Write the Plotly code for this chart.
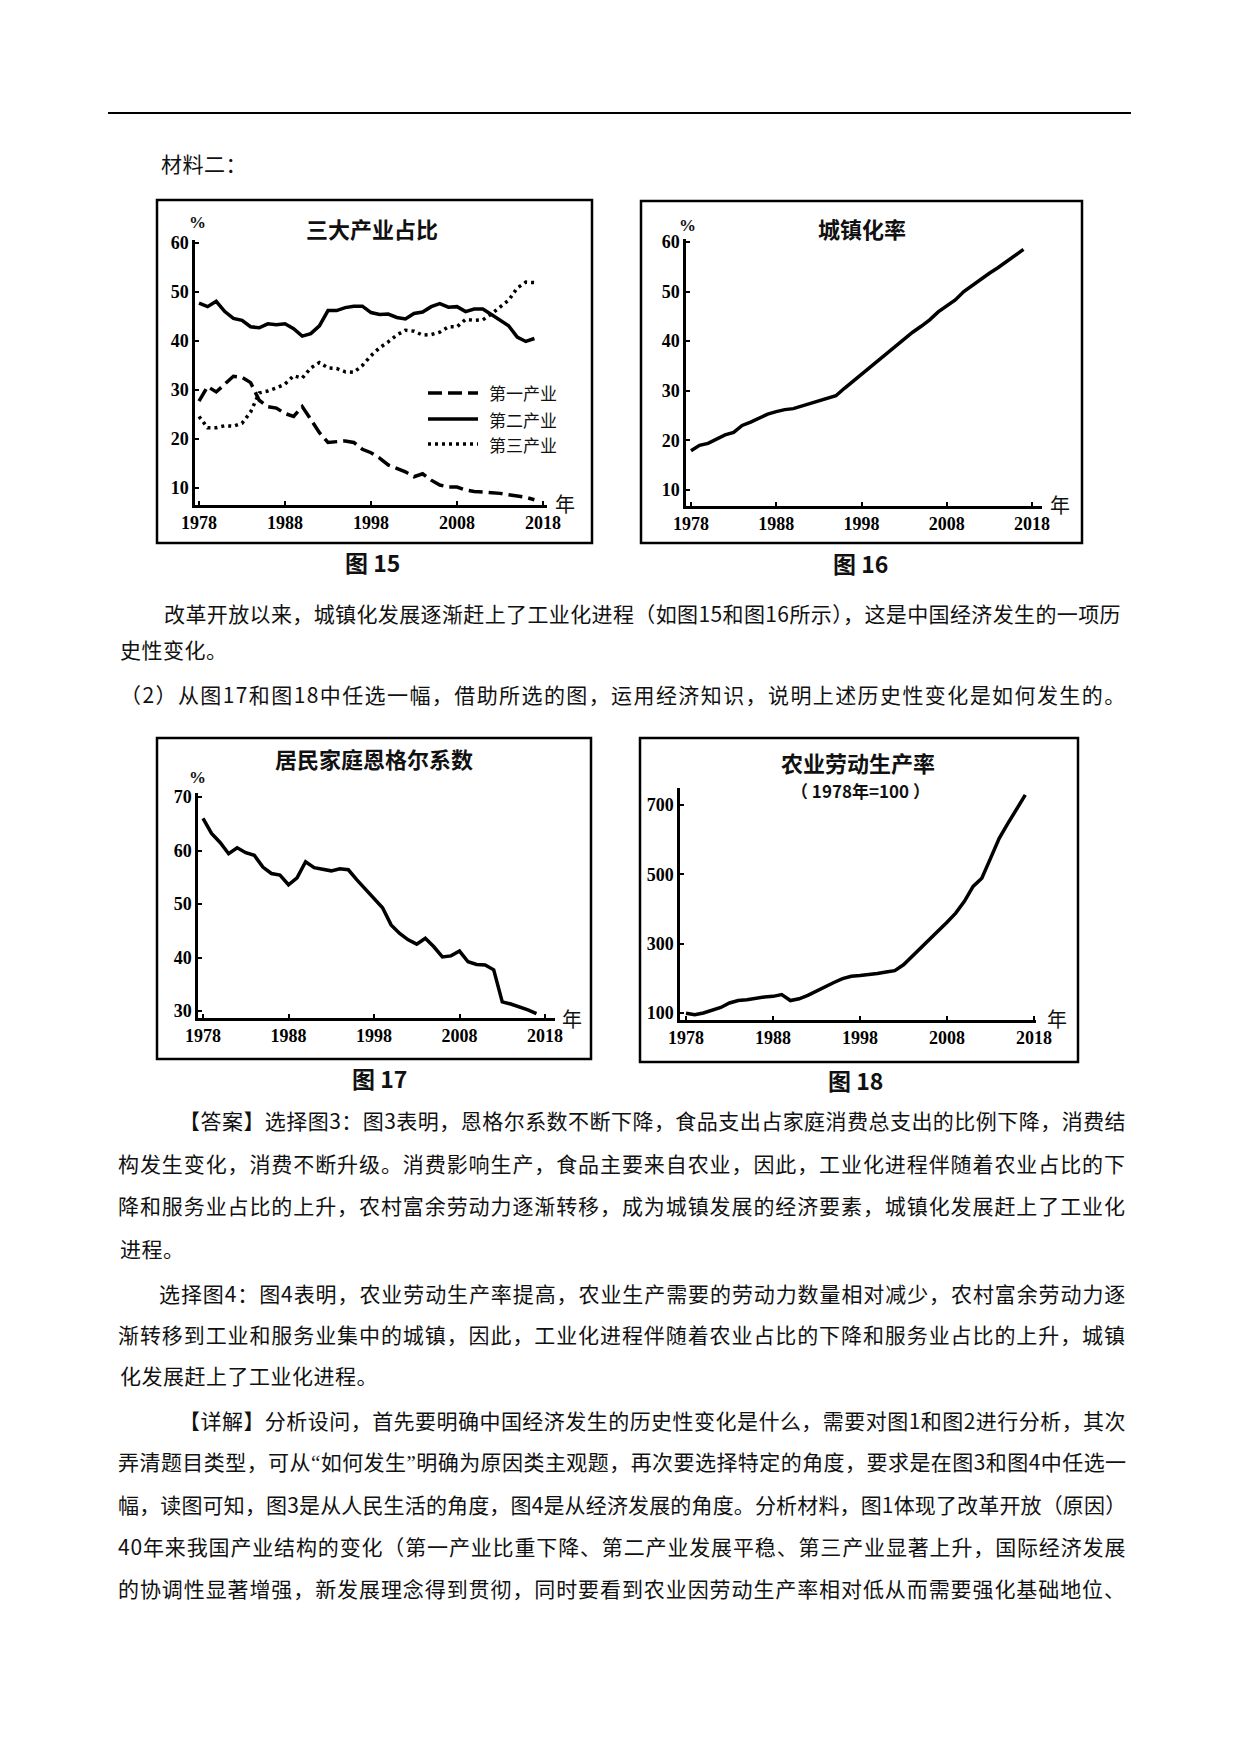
import plotly.graph_objects as go

# page is 1240x1753; the html body keeps an 8px margin, so the figure is
# made 16px smaller.  All positions below are page pixels of the reference.
PAGE_W, PAGE_H = 1240, 1753
M = 8
W, H = PAGE_W - 2 * M, PAGE_H - 2 * M


def px(x):
    return (x - M) / W


def py(y):
    return 1 - (y - M) / H


# ---- data ----
years = list(range(1978, 2018))

# 图15 三大产业占比 (%)
primary = [27.7, 30.7, 29.6, 31.3, 32.8, 32.6, 31.5, 27.9, 26.6, 26.3,
           25.2, 24.6, 26.6, 24.0, 21.3, 19.3, 19.5, 19.6, 19.3, 17.9,
           17.2, 16.1, 14.7, 14.0, 13.3, 12.3, 12.9, 11.6, 10.6, 10.2,
           10.2, 9.6, 9.3, 9.2, 9.1, 8.9, 8.6, 8.4, 8.1, 7.6]
secondary = [47.7, 47.0, 48.1, 46.0, 44.6, 44.2, 42.9, 42.7, 43.5, 43.3,
             43.5, 42.5, 41.0, 41.5, 43.1, 46.2, 46.2, 46.8, 47.1, 47.1,
             45.8, 45.4, 45.5, 44.8, 44.5, 45.6, 45.9, 47.0, 47.6, 46.9,
             47.0, 46.0, 46.5, 46.5, 45.4, 44.2, 43.1, 40.8, 39.9, 40.5]
tertiary = [24.6, 22.3, 22.3, 22.7, 22.6, 23.2, 25.5, 29.4, 29.8, 30.4,
            31.2, 32.9, 32.4, 34.5, 35.6, 34.5, 34.4, 33.7, 33.6, 35.0,
            37.0, 38.6, 39.8, 41.2, 42.2, 42.0, 41.2, 41.3, 41.8, 42.9,
            42.9, 44.4, 44.2, 44.3, 45.5, 46.9, 48.3, 50.8, 52.0, 51.9]

# 图16 城镇化率 (%)
urban = [17.9, 19.0, 19.4, 20.2, 21.1, 21.6, 23.0, 23.7, 24.5, 25.3,
         25.8, 26.2, 26.4, 26.9, 27.5, 28.0, 28.5, 29.0, 30.5, 31.9,
         33.4, 34.8, 36.2, 37.7, 39.1, 40.5, 41.8, 43.0, 44.3, 45.9,
         47.0, 48.3, 50.0, 51.3, 52.6, 53.7, 54.8, 56.1, 57.4, 58.5]

# 图17 居民家庭恩格尔系数 (%)
engel = [66.0, 63.2, 61.5, 59.4, 60.5, 59.6, 59.1, 56.9, 55.7, 55.4,
         53.6, 54.9, 57.9, 56.8, 56.5, 56.2, 56.6, 56.4, 54.5, 52.8,
         50.9, 49.3, 46.1, 44.5, 43.3, 42.5, 43.6, 42.0, 40.1, 40.3,
         41.2, 39.2, 38.7, 38.6, 37.7, 31.7, 31.3, 30.8, 30.2, 29.5]

# 图18 农业劳动生产率 (1978年=100)
agri = [99, 95, 100, 108, 116, 129, 136, 138, 143, 146,
        148, 153, 136, 141, 151, 164, 177, 188, 199, 206,
        208, 210, 214, 218, 222, 239, 263, 287, 311, 337,
        362, 388, 422, 465, 489, 546, 604, 647, 686, 729]

year_ticks = [1978, 1988, 1998, 2008, 2018]
pct_ticks = [10, 20, 30, 40, 50, 60]
engel_ticks = [30, 40, 50, 60, 70]
agri_ticks = [100, 300, 500, 700]

legend_names = ["第一产业", "第二产业", "第三产业"]

CJK = "Noto Sans CJK SC"
SERIF = "Liberation Serif"

fig = go.Figure()

line_w = 3.5
fig.add_trace(go.Scatter(x=years, y=primary, mode="lines", name=legend_names[0],
                         line=dict(color="black", width=line_w, dash="14px,6px"),
                         xaxis="x", yaxis="y"))
fig.add_trace(go.Scatter(x=years, y=secondary, mode="lines", name=legend_names[1],
                         line=dict(color="black", width=line_w),
                         xaxis="x", yaxis="y"))
fig.add_trace(go.Scatter(x=years, y=tertiary, mode="lines", name=legend_names[2],
                         line=dict(color="black", width=line_w, dash="3px,4px"),
                         xaxis="x", yaxis="y"))
fig.add_trace(go.Scatter(x=years, y=urban, mode="lines",
                         line=dict(color="black", width=line_w),
                         xaxis="x2", yaxis="y2"))
fig.add_trace(go.Scatter(x=years, y=engel, mode="lines",
                         line=dict(color="black", width=line_w),
                         xaxis="x3", yaxis="y3"))
fig.add_trace(go.Scatter(x=years, y=agri, mode="lines",
                         line=dict(color="black", width=line_w),
                         xaxis="x4", yaxis="y4"))

axis_common = dict(showline=True, linecolor="black", linewidth=2.5,
                   ticks="inside", ticklen=4, tickwidth=2, tickcolor="black",
                   showgrid=False, zeroline=False, fixedrange=True, automargin=False,
                   tickfont=dict(family=SERIF, size=18, color="black", weight="bold"))


def x_range(p0, p1, t0, t1, v0=1978, v1=2018):
    # axis drawn from page x p0 to p1, with value v0 at t0 and v1 at t1
    k = (v1 - v0) / (t1 - t0)
    return [v0 - (t0 - p0) * k, v1 + (p1 - t1) * k]


fig.update_layout(
    width=W, height=H,
    margin=dict(l=0, r=0, t=0, b=0, pad=0, autoexpand=False),
    paper_bgcolor="white", plot_bgcolor="rgba(0,0,0,0)",
    showlegend=False,
    xaxis=dict(domain=[px(195), px(547)], range=x_range(195, 547, 199, 543), tickvals=year_ticks,
               anchor="y", ticklabelstandoff=0, **axis_common),
    yaxis=dict(domain=[py(505), py(240)], range=[6.53, 60.6], tickvals=pct_ticks,
               anchor="x", **axis_common),
    xaxis2=dict(domain=[px(686), px(1042)], range=x_range(686, 1042, 691, 1032), tickvals=year_ticks,
                anchor="y2", ticklabelstandoff=0, **axis_common),
    yaxis2=dict(domain=[py(506), py(239)], range=[6.77, 60.6], tickvals=pct_ticks,
                anchor="x2", **axis_common),
    xaxis3=dict(domain=[px(198), px(555)], range=x_range(198, 555, 203, 545), tickvals=year_ticks,
                anchor="y3", ticklabelstandoff=0, **axis_common),
    yaxis3=dict(domain=[py(1018), py(793)], range=[28.69, 70.75], tickvals=engel_ticks,
                anchor="x3", **axis_common),
    xaxis4=dict(domain=[px(680), px(1036)], range=x_range(680, 1036, 686, 1034), tickvals=year_ticks,
                anchor="y4", ticklabelstandoff=0, **axis_common),
    yaxis4=dict(domain=[py(1020), py(788)], range=[79.8, 749], tickvals=agri_ticks,
                anchor="x4", **axis_common),
)

shapes = []
# top rule
shapes.append(dict(type="line", xref="paper", yref="paper", x0=px(108), x1=px(1131),
                   y0=py(113), y1=py(113), line=dict(color="black", width=2)))
# chart frames
for x0, y0, x1, y1 in [(157, 200, 592, 543), (641, 201, 1082, 543),
                       (157, 738, 591, 1059), (640, 738, 1078, 1062)]:
    shapes.append(dict(type="rect", xref="paper", yref="paper",
                       x0=px(x0), x1=px(x1), y0=py(y1), y1=py(y0),
                       line=dict(color="black", width=2.5)))
# hand-made legend for 图15
for (yy, dash) in [(393, "14px,6px"), (419, "solid"), (444, "3px,4px")]:
    shapes.append(dict(type="line", xref="paper", yref="paper", x0=px(428), x1=px(478),
                       y0=py(yy), y1=py(yy), line=dict(color="black", width=line_w, dash=dash)))
fig.update_layout(shapes=shapes)

ann = []


def text(x, y, s, size=21, family=CJK, anchor="left", weight="normal", color="#111"):
    ann.append(dict(x=px(x), y=py(y), xref="paper", yref="paper", text=s, showarrow=False,
                    xanchor=anchor, yanchor="middle",
                    font=dict(family=family, size=size, color=color, weight=weight)))


# legend labels
for yy, name in zip([393, 419, 444], legend_names):
    text(487, yy, name, size=17)

# chart titles, units, captions
text(372, 228, "三大产业占比", size=22, anchor="center", weight="bold")
text(862, 228, "城镇化率", size=22, anchor="center", weight="bold")
text(374, 758, "居民家庭恩格尔系数", size=22, anchor="center", weight="bold")
text(858, 762, "农业劳动生产率", size=22, anchor="center", weight="bold")
text(860, 790, "（ 1978年=100 ）", size=17, anchor="center", weight="bold")
for x, y in [(197, 223), (687, 225), (197, 777)]:
    text(x, y, "%", size=17, family=SERIF, anchor="center", weight="bold")
for x, y in [(565, 503), (1060, 505), (572, 1018), (1057, 1018)]:
    text(x, y, "年", size=20, anchor="center")
text(372, 562, "图 15", size=23, anchor="center", weight="bold")
text(860, 563, "图 16", size=23, anchor="center", weight="bold")
text(380, 1078, "图 17", size=23, anchor="center", weight="bold")
text(855, 1080, "图 18", size=23, anchor="center", weight="bold")

# body text: (left x, y, text, justified)
BODY = 21
L0, L1, RIGHT = 118, 159, 1126
LB = 179   # lines opening with 【
body = [
    (L1, 163, "材料二：", False),
    (L1, 613, "改革开放以来，城镇化发展逐渐赶上了工业化进程（如图15和图16所示），这是中国经济发生的一项历", True),
    (L0, 649, "史性变化。", False),
    (120, 694, "（2）从图17和图18中任选一幅，借助所选的图，运用经济知识，说明上述历史性变化是如何发生的。", True),
    (LB, 1120, "【答案】选择图3：图3表明，恩格尔系数不断下降，食品支出占家庭消费总支出的比例下降，消费结", True),
    (L0, 1163, "构发生变化，消费不断升级。消费影响生产，食品主要来自农业，因此，工业化进程伴随着农业占比的下", True),
    (L0, 1205, "降和服务业占比的上升，农村富余劳动力逐渐转移，成为城镇发展的经济要素，城镇化发展赶上了工业化", True),
    (L0, 1248, "进程。", False),
    (L1, 1293, "选择图4：图4表明，农业劳动生产率提高，农业生产需要的劳动力数量相对减少，农村富余劳动力逐", True),
    (L0, 1334, "渐转移到工业和服务业集中的城镇，因此，工业化进程伴随着农业占比的下降和服务业占比的上升，城镇", True),
    (L0, 1375, "化发展赶上了工业化进程。", False),
    (LB, 1420, "【详解】分析设问，首先要明确中国经济发生的历史性变化是什么，需要对图1和图2进行分析，其次", True),
    (L0, 1461, "弄清题目类型，可从“如何发生”明确为原因类主观题，再次要选择特定的角度，要求是在图3和图4中任选一", True),
    (L0, 1504, "幅，读图可知，图3是从人民生活的角度，图4是从经济发展的角度。分析材料，图1体现了改革开放（原因）", True),
    (L0, 1546, "40年来我国产业结构的变化（第一产业比重下降、第二产业发展平稳、第三产业显著上升，国际经济发展", True),
    (L0, 1588, "的协调性显著增强，新发展理念得到贯彻，同时要看到农业因劳动生产率相对低从而需要强化基础地位、", True),
]


def natural_width(s, size):
    w = 0.0
    for ch in s:
        if ch in "“”":
            w += 0.44 * size
        elif ord(ch) < 128:
            w += 0.55 * size
        else:
            w += size
    return w


def markup(s):
    s = s.replace("“", '<span style="font-family:Liberation Serif">“</span>')
    return s.replace("”", '<span style="font-family:Liberation Serif">”</span>')


for x, y, s, justify in body:
    if justify:
        ls = (RIGHT - x - natural_width(s, BODY)) / len(s)
        html = '<span style="letter-spacing:%.2fpx">%s</span>' % (ls, markup(s))
        ann.append(dict(x=px((x + RIGHT) / 2 + ls / 2), y=py(y), xref="paper", yref="paper",
                        text=html, showarrow=False, xanchor="center", yanchor="middle",
                        font=dict(family=CJK, size=BODY, color="#111")))
    else:
        text(x, y, '<span style="letter-spacing:0.5px">%s</span>' % s, size=BODY)

fig.update_layout(annotations=ann)

fig.write_html("out.html")
